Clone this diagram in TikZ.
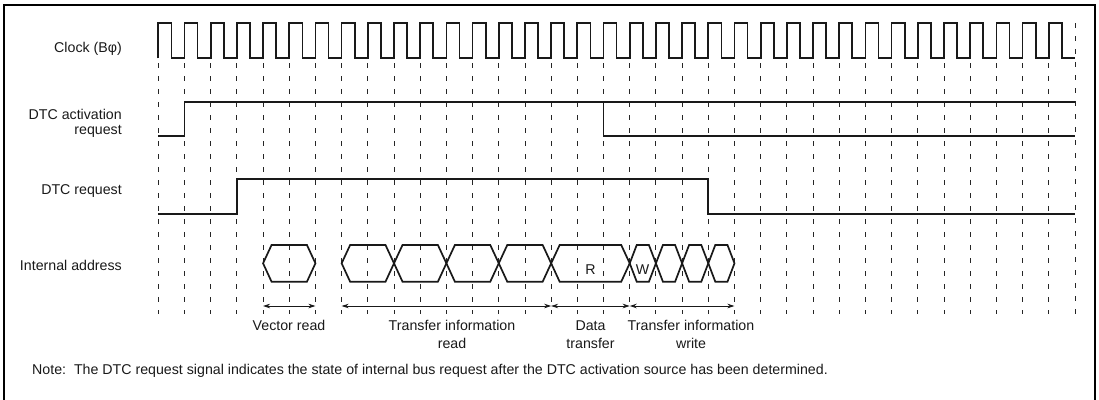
\documentclass[tikz,border=0pt]{standalone}
\usepackage{fontspec}
\setmainfont{Liberation Sans}
\usetikzlibrary{arrows.meta,calc}
\newcommand\hexbus[3]{\draw[wave] ($(t#1)+(0,263.3)$) -- ($(t#1)+(#3,245)$) -- ($(t#2)+(-#3,245)$) -- ($(t#2)+(0,263.3)$) -- ($(t#2)+(-#3,281.7)$) -- ($(t#1)+(#3,281.7)$) -- cycle;}
\begin{document}
\begin{tikzpicture}[x=1pt,y=-1pt,
  wave/.style={line width=1.7pt, draw=black!90},
  gridline/.style={line width=0.9pt, draw=black!85, dash pattern=on 5pt off 8pt},
  annot/.style={line width=0.8pt, draw=black!90, {Stealth[length=7pt,width=4.5pt]}-{Stealth[length=7pt,width=4.5pt]}},
  lbl/.style={font=\fontsize{14.2}{16}\selectfont, inner sep=0pt, text=black!90},
  frame/.style={line width=2pt, draw=black}]
\useasboundingbox (0,0) rectangle (1099,399);
\foreach \k in {0,...,35}{
  \coordinate (t\k) at ({158.3+\k*26.19},0);
  \coordinate (g\k) at ({158.3+\k*26.19},63);
  \coordinate (e\k) at ({158.3+\k*26.19},314);
  \coordinate (b\k) at ({158.3+\k*26.19},306);
}
% frame
\draw[frame] (3.5,400) -- (3.5,5) -- (1095,5) -- (1095,400);
% grid
\foreach \k in {0,...,34}{\draw[gridline] (g\k) -- (e\k);}
\draw[gridline] (t35 |- 0,23.3) -- (e35);
% clock
\draw[wave] (t0 |- 0,58.3) \foreach \k in {0,...,34}{ -- ++(0,-35) -- ++(13.095,0) -- ++(0,35) -- ++(13.095,0)};
% DTC activation request
\draw[wave] (t0 |- 0,136) -- (t1 |- 0,136) -- (t1 |- 0,101.7) -- (t35 |- 0,101.7);
\draw[wave] (t17 |- 0,101.7) -- (t17 |- 0,136) -- (t35 |- 0,136);
% DTC request
\draw[wave] (t0 |- 0,214) -- (t3 |- 0,214) -- (t3 |- 0,179.3) -- (t21 |- 0,179.3) -- (t21 |- 0,214) -- (t35 |- 0,214);
% internal address
\hexbus{4}{6}{8.5}
\hexbus{7}{9}{8.5}
\hexbus{9}{11}{8.5}
\hexbus{11}{13}{8.5}
\hexbus{13}{15}{8.5}
\hexbus{15}{18}{8.5}
\hexbus{18}{19}{7}
\hexbus{19}{20}{7}
\hexbus{20}{21}{7}
\hexbus{21}{22}{7}
\node[lbl,anchor=base] (R) at (590.5,274.3) {R};
\node[lbl,anchor=base] (W) at (642.5,274.3) {W};
% labels
\node[lbl,anchor=base east] (clk) at (122,52) {Clock (Bφ)};
\node[lbl,anchor=base east] (act1) at (122,119.5) {DTC activation};
\node[lbl,anchor=base east] (act2) at (122,134) {request};
\node[lbl,anchor=base east] (req) at (122,194.3) {DTC request};
\node[lbl,anchor=base east] (ia) at (122,270.5) {Internal address};
% annotations
\draw[annot] (b4) -- (b6);
\draw[annot] (b7) -- (b15);
\draw[annot] (b15) -- (b18);
\draw[annot] (b18) -- (b22);
\node[lbl,anchor=base] (vr) at (289,330) {Vector read};
\node[lbl,anchor=base] (tir1) at (452,330) {Transfer information};
\node[lbl,anchor=base] (tir2) at (452,348.5) {read};
\node[lbl,anchor=base] (dt1) at (590.5,330) {Data};
\node[lbl,anchor=base] (dt2) at (590.5,348.5) {transfer};
\node[lbl,anchor=base] (tiw1) at (691,330) {Transfer information};
\node[lbl,anchor=base] (tiw2) at (691,348.5) {write};
\node[lbl,anchor=base west] (note) at (32,374) {Note:\ \ The DTC request signal indicates the state of internal bus request after the DTC activation source has been determined.};
\end{tikzpicture}
\end{document}
